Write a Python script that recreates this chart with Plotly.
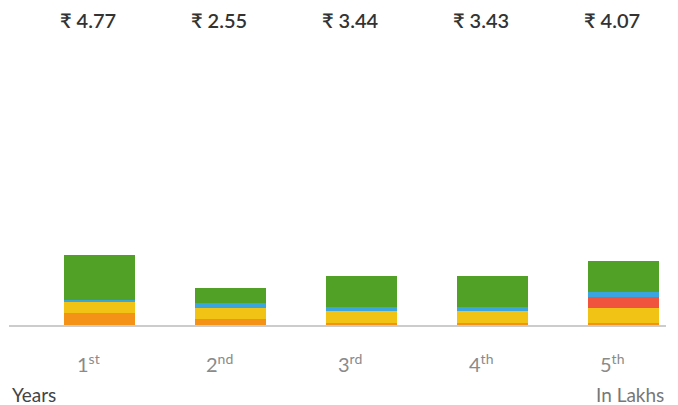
import plotly.graph_objects as go

years = ["1", "2", "3", "4", "5"]
suffixes = ["st", "nd", "rd", "th", "th"]
totals = ["₹ 4.77", "₹ 2.55", "₹ 3.44", "₹ 3.43", "₹ 4.07"]

# stacked components (lakhs), bottom to top
orange = [0.84, 0.41, 0.16, 0.16, 0.14]
yellow = [0.71, 0.75, 0.82, 0.82, 1.02]
red = [0.0, 0.0, 0.0, 0.0, 0.73]
blue = [0.16, 0.34, 0.27, 0.27, 0.38]
green = [3.06, 1.02, 2.09, 2.09, 2.09]

series = [
    ("Orange", orange, "#f49117"),
    ("Yellow", yellow, "#f0c314"),
    ("Red", red, "#f0533e"),
    ("Blue", blue, "#3ba5df"),
    ("Green", green, "#50a126"),
]

xs = list(range(len(years)))
fig = go.Figure()
for name, vals, col in series:
    fig.add_trace(go.Bar(
        x=xs, y=vals, name=name, marker=dict(color=col, line=dict(width=0)),
        width=0.542, offset=-0.183, hoverinfo="skip",
    ))

FONT = "Lato"
ann = []
for i, (t, y, s) in enumerate(zip(totals, years, suffixes)):
    ann.append(dict(x=i, xref="x", y=1, yref="paper", yanchor="middle", yshift=-20,
                    text=t, showarrow=False,
                    font=dict(family=FONT, size=20, color="#333333", weight=600)))
    ann.append(dict(x=i, xref="x", y=0, yref="paper", yanchor="middle", yshift=-36,
                    text=f"{y}<sup>{s}</sup>", showarrow=False,
                    font=dict(family=FONT, size=20, color="#8a8a8a")))
ann.append(dict(x=0, xref="paper", xanchor="left", xshift=1, y=0, yref="paper",
                yanchor="middle", yshift=-67, text="Years", showarrow=False,
                font=dict(family=FONT, size=19, color="#444444")))
ann.append(dict(x=1, xref="paper", xanchor="right", y=0, yref="paper",
                yanchor="middle", yshift=-67, text="In Lakhs", showarrow=False,
                font=dict(family=FONT, size=19, color="#777777")))

fig.add_shape(type="line", xref="paper", x0=0, x1=1, yref="y", y0=-0.068, y1=-0.068,
              line=dict(color="#cccccc", width=2))

fig.update_layout(
    barmode="stack", width=678, height=405, showlegend=False,
    margin=dict(l=9, r=12, t=0, b=78),
    paper_bgcolor="white", plot_bgcolor="white",
    xaxis=dict(range=[-0.603, 4.412], visible=False, fixedrange=True),
    yaxis=dict(range=[-0.136, 22.1], visible=False, fixedrange=True),
    annotations=ann,
)
fig.write_html("out.html", config={"displayModeBar": False},
               post_script="document.body.style.margin='0';document.body.style.overflow='hidden';")
